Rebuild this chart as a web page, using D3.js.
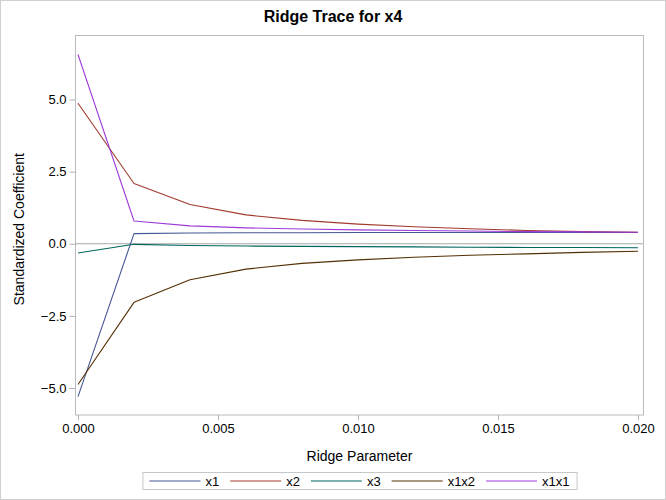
<!DOCTYPE html>
<html>
<head>
<meta charset="utf-8">
<script src="https://cdn.jsdelivr.net/npm/d3@7"></script>
<style>
  html, body { margin: 0; padding: 0; background: #fff; }
  svg { display: block; font-family: "Liberation Sans", Arial, sans-serif; }
</style>
</head>
<body>
<svg id="chart" width="666" height="500"></svg>
<script>
// ---- data ----
const ridgeParams = [0, 0.002, 0.004, 0.006, 0.008, 0.010, 0.012, 0.014, 0.016, 0.018, 0.020];
const seriesNames = ["x1", "x2", "x3", "x1x2", "x1x1"];
const x1Values   = [-5.30, 0.35, 0.37, 0.38, 0.38, 0.39, 0.39, 0.39, 0.39, 0.39, 0.39];
const x2Values   = [4.87, 2.09, 1.36, 1.00, 0.81, 0.68, 0.59, 0.52, 0.46, 0.42, 0.40];
const x3Values   = [-0.32, -0.02, -0.06, -0.08, -0.09, -0.10, -0.11, -0.12, -0.13, -0.13, -0.14];
const x1x2Values = [-4.88, -2.03, -1.25, -0.88, -0.68, -0.56, -0.47, -0.40, -0.35, -0.30, -0.26];
const x1x1Values = [6.56, 0.79, 0.62, 0.55, 0.51, 0.48, 0.46, 0.44, 0.42, 0.41, 0.40];
const xTicks = [0, 0.005, 0.010, 0.015, 0.020];
const yTicks = [-5.0, -2.5, 0.0, 2.5, 5.0];
const colors = ["#445694", "#A23A2E", "#01665E", "#543005", "#9D3CDB"];

const seriesValues = [x1Values, x2Values, x3Values, x1x2Values, x1x1Values];
const series = seriesNames.map((name, i) => ({
  name, color: colors[i],
  points: ridgeParams.map((k, j) => ({ k, v: seriesValues[i][j] }))
}));

// ---- layout ----
const svg = d3.select("#chart");
const W = 666, H = 500;
const frame = { left: 75.5, right: 643.5, top: 35.5, bottom: 415 };

const x = d3.scaleLinear().domain([0, 0.02]).range([78, 638]);
const y = d3.scaleLinear().domain([-5, 5]).range([388, 99.5]);

// outer border
svg.append("rect").attr("x", 0.5).attr("y", 0.5).attr("width", W - 1).attr("height", H - 1)
  .attr("fill", "#fff").attr("stroke", "#d0d0d0");

// title
svg.append("text").attr("x", W / 2).attr("y", 22).attr("text-anchor", "middle")
  .attr("font-size", 16).attr("font-weight", "bold").attr("fill", "#000")
  .text("Ridge Trace for x4");

// plot clip
svg.append("clipPath").attr("id", "clip").append("rect")
  .attr("x", frame.left).attr("y", frame.top)
  .attr("width", frame.right - frame.left).attr("height", frame.bottom - frame.top);

// zero reference line
svg.append("line")
  .attr("x1", frame.left).attr("x2", frame.right)
  .attr("y1", y(0)).attr("y2", y(0))
  .attr("stroke", "#a8a8a8").attr("stroke-width", 1);

// lines
const line = d3.line().x(d => x(d.k)).y(d => y(d.v));
const g = svg.append("g").attr("clip-path", "url(#clip)");
series.forEach(s => {
  g.append("path").datum(s.points)
    .attr("d", line)
    .attr("fill", "none")
    .attr("stroke", s.color)
    .attr("stroke-width", 1.1)
    .attr("stroke-linejoin", "round");
});

// frame
svg.append("rect")
  .attr("x", frame.left).attr("y", frame.top)
  .attr("width", frame.right - frame.left).attr("height", frame.bottom - frame.top)
  .attr("fill", "none").attr("stroke", "#b8bcc0").attr("stroke-width", 1);

// x axis
const xAxis = d3.axisBottom(x).tickValues(xTicks).tickFormat(d3.format(".3f"))
  .tickSizeOuter(0).tickSizeInner(5).tickPadding(4);
const gx = svg.append("g").attr("transform", `translate(0,${frame.bottom})`).call(xAxis);
gx.select(".domain").remove();
gx.selectAll(".tick line").attr("stroke", "#b0b0b0");
gx.selectAll(".tick text").attr("font-size", 13).attr("fill", "#000")
  .attr("font-family", "'Liberation Sans', Arial, sans-serif");

// y axis
const yAxis = d3.axisLeft(y).tickValues(yTicks).tickFormat(d3.format(".1f"))
  .tickSizeOuter(0).tickSizeInner(6).tickPadding(3);
const gy = svg.append("g").attr("transform", `translate(${frame.left},0)`).call(yAxis);
gy.select(".domain").remove();
gy.selectAll(".tick line").attr("stroke", "#b0b0b0");
gy.selectAll(".tick text").attr("font-size", 13).attr("fill", "#000")
  .attr("font-family", "'Liberation Sans', Arial, sans-serif");

// axis titles
svg.append("text").attr("x", (frame.left + frame.right) / 2).attr("y", 461)
  .attr("text-anchor", "middle").attr("font-size", 14).attr("fill", "#000")
  .text("Ridge Parameter");
svg.append("text")
  .attr("transform", `translate(24,${(frame.top + frame.bottom) / 2 + 4}) rotate(-90)`)
  .attr("text-anchor", "middle").attr("font-size", 14).attr("fill", "#000")
  .text("Standardized Coefficient");

// legend
const legend = svg.append("g");
const lineLen = 51, gapText = 5, gapItem = 11;
let cx = 0;
const items = [];
series.forEach(s => {
  const t = legend.append("text").attr("font-size", 13).attr("fill", "#000").text(s.name);
  const tw = t.node().getComputedTextLength();
  items.push({ s, t, tw, x0: cx });
  cx += lineLen + gapText + tw + gapItem;
});
const totalW = cx - gapItem;
const legendLeft = (frame.left + frame.right) / 2 - totalW / 2;
const ly = 481;
items.forEach(it => {
  legend.append("line")
    .attr("x1", legendLeft + it.x0).attr("x2", legendLeft + it.x0 + lineLen)
    .attr("y1", ly).attr("y2", ly)
    .attr("stroke", it.s.color).attr("stroke-width", 1.1);
  it.t.attr("x", legendLeft + it.x0 + lineLen + gapText).attr("y", ly + 4.5);
});
legend.insert("rect", ":first-child")
  .attr("x", legendLeft - 6.5).attr("y", 472.5)
  .attr("width", totalW + 14).attr("height", 17)
  .attr("fill", "#fff").attr("stroke", "#c8c8c8");
</script>
</body>
</html>
